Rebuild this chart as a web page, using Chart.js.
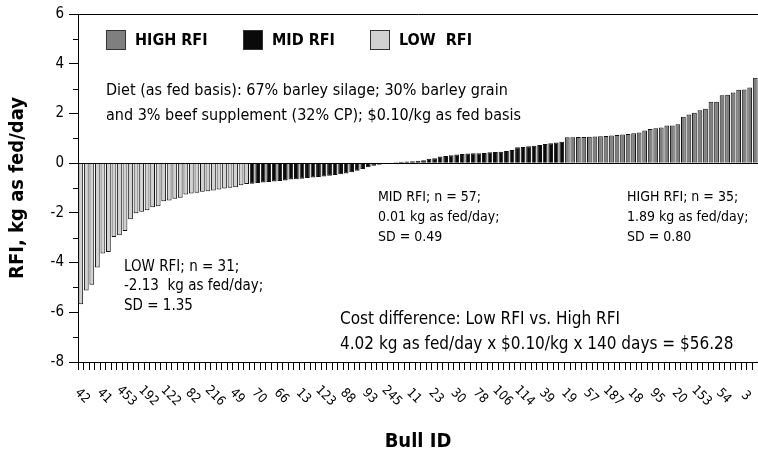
<!DOCTYPE html>
<html>
<head>
<meta charset="utf-8">
<script src="https://cdn.jsdelivr.net/npm/chart.js@4/dist/chart.umd.min.js"></script>
<style>
  html, body { margin: 0; padding: 0; background: #fff; }
</style>
</head>
<body>
<canvas id="rfiChart" width="758" height="456"></canvas>
<script>
// RFI values per bull, sorted
const lowRfi = [-5.68, -5.12, -4.89, -4.2, -3.64, -3.57, -2.97, -2.9, -2.73, -2.26,
    -2.02, -1.96, -1.9, -1.77, -1.73, -1.53, -1.5, -1.43, -1.39, -1.26,
    -1.22, -1.19, -1.15, -1.13, -1.1, -1.06, -1.02, -0.99, -0.97, -0.89, -0.84];
const midRfi = [-0.83, -0.8, -0.78, -0.76, -0.74, -0.72, -0.7, -0.66, -0.65, -0.63,
    -0.6, -0.58, -0.56, -0.54, -0.51, -0.48, -0.45, -0.42, -0.37, -0.31,
    -0.24, -0.17, -0.1, -0.06, -0.03, 0.02, 0.04, 0.06, 0.07, 0.08,
    0.09, 0.12, 0.18, 0.2, 0.27, 0.29, 0.32, 0.35, 0.37, 0.39,
    0.4, 0.4, 0.41, 0.44, 0.45, 0.46, 0.49, 0.53, 0.64, 0.65,
    0.68, 0.7, 0.73, 0.77, 0.8, 0.83, 0.86];
const highRfi = [1.04, 1.04, 1.05, 1.05, 1.06, 1.07, 1.08, 1.09, 1.11, 1.13,
    1.15, 1.17, 1.2, 1.23, 1.31, 1.37, 1.4, 1.43, 1.51, 1.51,
    1.56, 1.87, 1.96, 2.03, 2.13, 2.19, 2.47, 2.47, 2.73, 2.75,
    2.84, 2.95, 2.96, 3.04, 3.44];

// only every 4th bull id is printed on the axis
const tickIds = ['42', '41', '453', '192', '122', '82', '216', '49', '70', '66',
    '13', '123', '88', '93', '245', '11', '23', '30', '78', '106',
    '114', '39', '19', '57', '187', '18', '95', '20', '153', '54', '3'];
const tickEvery = 4;

const groupLabels = ['HIGH RFI', 'MID RFI', 'LOW  RFI'];
const groupColors = ['#7f7f7f', '#0a0a0a', '#d2d2d2'];

const yTicks = [-8, -6, -4, -2, 0, 2, 4, 6];

const FONT = '"Liberation Sans Narrow", "DejaVu Sans Condensed", "Arial Narrow", sans-serif';

const total = lowRfi.length + midRfi.length + highRfi.length;
const categories = [];
for (let i = 0; i < total; i++) {
    categories.push(i % tickEvery === 0 ? (tickIds[i / tickEvery] || '') : '');
}

const pad = (vals, before) => {
    const arr = new Array(total).fill(null);
    vals.forEach((v, i) => { arr[before + i] = v; });
    return arr;
};
const lowData = pad(lowRfi, 0);
const midData = pad(midRfi, lowRfi.length);
const highData = pad(highRfi, lowRfi.length + midRfi.length);

const notes = [
    { lines: ['Diet (as fed basis): 67% barley silage; 30% barley grain',
              'and 3% beef supplement (32% CP); $0.10/kg as fed basis'], x: 106, y: 91, size: 16, gap: 25 },
    { lines: ['MID RFI; n = 57;', '0.01 kg as fed/day;', 'SD = 0.49'], x: 378, y: 197, size: 14, gap: 20 },
    { lines: ['HIGH RFI; n = 35;', '1.89 kg as fed/day;', 'SD = 0.80'], x: 627, y: 197, size: 14, gap: 20 },
    { lines: ['LOW RFI; n = 31;', '-2.13  kg as fed/day;', 'SD = 1.35'], x: 124, y: 267, size: 15, gap: 19.5 },
    { lines: ['Cost difference: Low RFI vs. High RFI',
              '4.02 kg as fed/day x $0.10/kg x 140 days = $56.28'], x: 340, y: 320, size: 17, gap: 25 }
];

const decor = {
    id: 'decor',
    afterDraw(chart) {
        const c = chart.ctx;
        const xs = chart.scales.x;
        const ys = chart.scales.y;
        c.save();

        // minor ticks on the y axis
        c.strokeStyle = '#000';
        c.lineWidth = 1;
        for (let v = ys.min + 1; v < ys.max; v += 2) {
            const y = Math.round(ys.getPixelForValue(v)) + 0.5;
            c.beginPath();
            c.moveTo(ys.right - 5, y);
            c.lineTo(ys.right, y);
            c.stroke();
        }

        // legend inside the plot
        const legX = [106, 243, 370];
        chart.data.datasets.forEach((ds, i) => {
            c.fillStyle = ds.backgroundColor;
            c.fillRect(legX[i], 30, 20, 20);
            c.strokeStyle = '#333';
            c.strokeRect(legX[i] + 0.5, 30.5, 19, 19);
            c.fillStyle = '#000';
            c.font = 'bold 16px ' + FONT;
            c.textBaseline = 'middle';
            c.textAlign = 'left';
            c.fillText(ds.label, legX[i] + 29, 41);
        });

        // text notes
        c.fillStyle = '#000';
        notes.forEach(n => {
            c.font = n.size + 'px ' + FONT;
            n.lines.forEach((t, k) => c.fillText(t, n.x, n.y + k * n.gap));
        });

        // rotated bull ids under the axis
        c.font = '13px ' + FONT;
        c.textAlign = 'center';
        chart.data.labels.forEach((lab, i) => {
            if (!lab) return;
            const x = xs.getPixelForValue(i);
            c.save();
            c.translate(x + 1.5, 396);
            c.rotate(Math.PI / 4);
            c.fillText(lab, 0, 0);
            c.restore();
        });
        c.restore();
    }
};

const barOpts = { grouped: false, barPercentage: 0.86, categoryPercentage: 1, borderWidth: 1, borderColor: '#111' };

new Chart(document.getElementById('rfiChart'), {
    type: 'bar',
    data: {
        labels: categories,
        datasets: [
            { label: groupLabels[0], data: highData, backgroundColor: groupColors[0], ...barOpts },
            { label: groupLabels[1], data: midData, backgroundColor: groupColors[1], ...barOpts },
            { label: groupLabels[2], data: lowData, backgroundColor: groupColors[2], ...barOpts }
        ]
    },
    options: {
        responsive: false,
        animation: false,
        layout: { padding: { top: 12, right: 0, left: 0, bottom: 0 } },
        font: { family: FONT },
        plugins: { legend: { display: false }, tooltip: { enabled: false } },
        scales: {
            x: {
                offset: true,
                ticks: { display: false, autoSkip: false },
                grid: { drawOnChartArea: false, tickLength: 8, color: '#000', offset: true },
                border: { color: '#000' },
                title: { display: true, text: 'Bull ID', color: '#000', font: { family: FONT, size: 20, weight: 'bold' }, padding: { top: 0, bottom: 2 } },
                afterFit: s => { s.height = 94; }
            },
            y: {
                min: yTicks[0],
                max: yTicks[yTicks.length - 1],
                afterBuildTicks: s => { s.ticks = yTicks.map(v => ({ value: v })); },
                ticks: { color: '#000', font: { family: FONT, size: 15 }, padding: 5 },
                grid: {
                    color: ctx => (ctx.tick && (ctx.tick.value === 6 || ctx.tick.value === 0)) ? '#000' : 'rgba(0,0,0,0)',
                    tickColor: '#000',
                    tickLength: 9
                },
                border: { color: '#000' },
                title: { display: true, text: 'RFI, kg as fed/day', color: '#000', font: { family: FONT, size: 20, weight: 'bold' }, padding: { top: 6, bottom: 0 } },
                afterFit: s => { s.width = 78; }
            }
        }
    },
    plugins: [decor]
});
</script>
</body>
</html>
